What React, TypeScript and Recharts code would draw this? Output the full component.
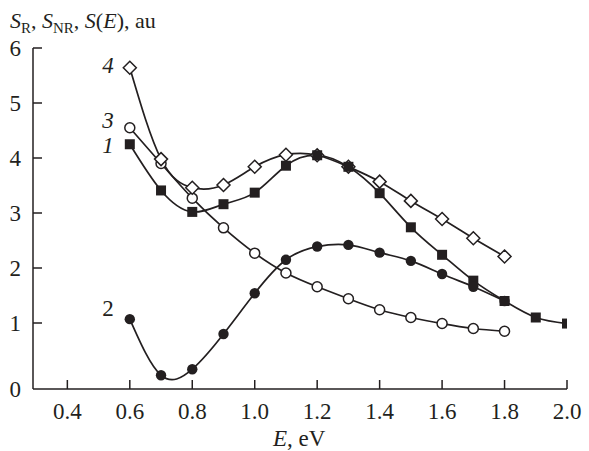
import React from "react";
import { LineChart, Line, XAxis, YAxis } from "recharts";

// photon energy, eV
const energies = [0.6, 0.7, 0.8, 0.9, 1.0, 1.1, 1.2, 1.3, 1.4, 1.5, 1.6, 1.7, 1.8, 1.9, 2.0];

// curve 1 (filled squares)
const curve1 = [4.25, 3.41, 3.02, 3.16, 3.37, 3.86, 4.05, 3.84, 3.36, 2.74, 2.24, 1.77, 1.4, 1.1, 0.99];
// curve 2 (filled circles)
const curve2 = [1.07, 0.05, 0.16, 0.8, 1.54, 2.15, 2.39, 2.42, 2.28, 2.13, 1.89, 1.66, 1.4];
// curve 3 (open circles)
const curve3 = [4.55, 3.9, 3.27, 2.73, 2.27, 1.91, 1.66, 1.44, 1.24, 1.1, 0.99, 0.9, 0.85];
// curve 4 (open diamonds)
const curve4 = [5.64, 3.98, 3.46, 3.51, 3.84, 4.06, 4.05, 3.84, 3.57, 3.22, 2.89, 2.54, 2.21];

const xTicks = [0.4, 0.6, 0.8, 1.0, 1.2, 1.4, 1.6, 1.8, 2.0];
// the bottom tick is printed as "0" at the axis corner
const yTicks = [-0.2, 1, 2, 3, 4, 5, 6];

const rows = energies.map((e, i) => ({
  e,
  s1: curve1[i] ?? null,
  s2: curve2[i] ?? null,
  s3: curve3[i] ?? null,
  s4: curve4[i] ?? null,
}));

const INK = "#231f20";
const FONT = "'Liberation Serif', 'DejaVu Serif', serif";

function XTick({ x, y, payload }: any) {
  return (
    <g>
      <line x1={x} y1={y} x2={x} y2={y - 9} stroke={INK} strokeWidth={1.5} />
      <text x={x} y={y + 30} textAnchor="middle" fontFamily={FONT} fontSize={23} fill={INK}>
        {Number(payload.value).toFixed(1)}
      </text>
    </g>
  );
}

function YTick({ x, y, payload }: any) {
  const v = payload.value;
  return (
    <g>
      {v > 0 && <line x1={x} y1={y} x2={x + 9} y2={y} stroke={INK} strokeWidth={1.5} />}
      <text x={x - 12} y={y + 8} textAnchor="end" fontFamily={FONT} fontSize={23} fill={INK}>
        {v < 0 ? "0" : v}
      </text>
    </g>
  );
}

const squareDot = (p: any) =>
  p.cy == null ? <g key={`sq-${p.index}`} /> : (
    <rect key={`sq-${p.index}`} x={p.cx - 5} y={p.cy - 5} width={10} height={10} fill={INK} />
  );

const filledDot = (p: any) =>
  p.cy == null ? <g key={`fc-${p.index}`} /> : (
    <circle key={`fc-${p.index}`} cx={p.cx} cy={p.cy} r={5.2} fill={INK} />
  );

const openDot = (p: any) =>
  p.cy == null ? <g key={`oc-${p.index}`} /> : (
    <circle key={`oc-${p.index}`} cx={p.cx} cy={p.cy} r={5} fill="#fff" stroke={INK} strokeWidth={1.5} />
  );

const diamondDot = (p: any) =>
  p.cy == null ? <g key={`dm-${p.index}`} /> : (
    <polygon
      key={`dm-${p.index}`}
      points={`${p.cx},${p.cy - 6.5} ${p.cx + 6.5},${p.cy} ${p.cx},${p.cy + 6.5} ${p.cx - 6.5},${p.cy}`}
      fill="#fff"
      stroke={INK}
      strokeWidth={1.5}
    />
  );

export default function App() {
  return (
    <div style={{ position: "absolute", left: 0, top: 0, width: 589, height: 451, background: "#fff" }}>
      <LineChart width={589} height={451} data={rows} margin={{ top: 48, right: 22, bottom: 0, left: 0 }}>
        <XAxis
          dataKey="e"
          type="number"
          domain={[0.29, 2.0]}
          ticks={xTicks}
          height={62}
          tickSize={0}
          tickMargin={0}
          tick={<XTick />}
          axisLine={{ stroke: INK, strokeWidth: 1.5 }}
          tickLine={false}
          allowDataOverflow
        />
        <YAxis
          type="number"
          domain={[-0.2, 6]}
          ticks={yTicks}
          width={33}
          tickSize={0}
          tickMargin={0}
          tick={<YTick />}
          axisLine={{ stroke: INK, strokeWidth: 1.5 }}
          tickLine={false}
          allowDataOverflow
        />
        <Line type="natural" dataKey="s3" stroke={INK} strokeWidth={1.7} dot={openDot} isAnimationActive={false} />
        <Line type="natural" dataKey="s4" stroke={INK} strokeWidth={1.7} dot={diamondDot} isAnimationActive={false} />
        <Line type="natural" dataKey="s1" stroke={INK} strokeWidth={1.7} dot={squareDot} isAnimationActive={false} />
        <Line type="natural" dataKey="s2" stroke={INK} strokeWidth={1.7} dot={filledDot} isAnimationActive={false} />
      </LineChart>
      <svg
        width={589}
        height={451}
        style={{ position: "absolute", left: 0, top: 0, pointerEvents: "none" }}
        fontFamily={FONT}
        fill={INK}
      >
        <text x={10} y={28} fontSize={22}>
          <tspan fontStyle="italic">S</tspan>
          <tspan fontSize={15} dy={5}>R</tspan>
          <tspan dy={-5}>, </tspan>
          <tspan fontStyle="italic">S</tspan>
          <tspan fontSize={15} dy={5}>NR</tspan>
          <tspan dy={-5}>, </tspan>
          <tspan fontStyle="italic">S</tspan>
          <tspan>(</tspan>
          <tspan fontStyle="italic">E</tspan>
          <tspan>), au</tspan>
        </text>
        <text x={273} y={446} fontSize={23}>
          <tspan fontStyle="italic">E</tspan>
          <tspan>, eV</tspan>
        </text>
        <text x={108} y={73} fontSize={23} fontStyle="italic" textAnchor="middle">4</text>
        <text x={108} y={128} fontSize={23} fontStyle="italic" textAnchor="middle">3</text>
        <text x={108} y={153} fontSize={23} fontStyle="italic" textAnchor="middle">1</text>
        <text x={108} y={316} fontSize={23} textAnchor="middle">2</text>
      </svg>
    </div>
  );
}
